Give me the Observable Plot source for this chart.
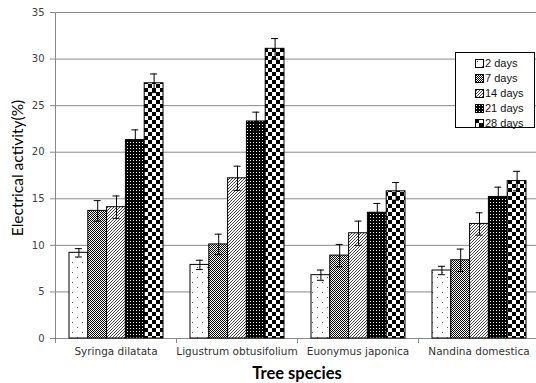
<!DOCTYPE html>
<html>
<head>
<meta charset="utf-8">
<script src="https://cdn.jsdelivr.net/npm/d3@7"></script>
<script src="https://cdn.jsdelivr.net/npm/@observablehq/plot@0.6"></script>
<style>
  html, body { margin: 0; padding: 0; background: #fff; }
  #wrap { position: relative; width: 536px; height: 383px; overflow: hidden; }
  #legend { position: absolute; left: 455px; top: 52px; width: 78px; height: 74px;
            border: 1px solid #000; background: #fff; font-family: "Liberation Sans", sans-serif;
            font-size: 11px; color: #111; }
  #legend .row { position: absolute; left: 19px; height: 15px; line-height: 15px; white-space: nowrap; }
  #legend svg { vertical-align: -1px; margin-right: 1px; }
  #ytitle { position: absolute; left: 17px; top: 168px; transform: translate(-50%, -50%) rotate(-90deg);
            font-family: Lato, sans-serif; font-size: 15.5px; white-space: nowrap; color: #000; }
  #xtitle { position: absolute; left: 297px; top: 363px; transform: translateX(-50%);
            font-family: Lato, sans-serif; font-weight: bold; font-size: 16.5px; white-space: nowrap; color: #000; }
</style>
</head>
<body>
<div id="wrap">
  <div id="chart"></div>
  <div id="ytitle">Electrical activity(%)</div>
  <div id="xtitle">Tree species</div>
  <div id="legend"></div>
</div>
<script>
// ---- data ----
const species = ["Syringa dilatata", "Ligustrum obtusifolium", "Euonymus japonica", "Nandina domestica"];
const durations = ["2 days", "7 days", "14 days", "21 days", "28 days"];
const yTicks = [0, 5, 10, 15, 20, 25, 30, 35];

const v2  = [9.2, 7.9, 6.8, 7.3];
const v7  = [13.7, 10.1, 8.9, 8.4];
const v14 = [14.1, 17.2, 11.3, 12.3];
const v21 = [21.3, 23.3, 13.5, 15.2];
const v28 = [27.4, 31.1, 15.8, 16.9];

const e2  = [0.45, 0.5, 0.55, 0.45];
const e7  = [1.1, 1.1, 1.2, 1.2];
const e14 = [1.2, 1.3, 1.3, 1.2];
const e21 = [1.1, 1.0, 1.0, 1.05];
const e28 = [1.0, 1.1, 0.95, 1.05];

const values = [v2, v7, v14, v21, v28];
const errors = [e2, e7, e14, e21, e28];
const patternIds = ["p2", "p7", "p14", "p21", "p28"];

// ---- layout helpers (styling only) ----
const bandW = 121, padL = 14, barW = 18.8, capW = 7;

const marks = [
  Plot.gridY(yTicks, {stroke: "#8a8a8a", strokeOpacity: 1}),
  Plot.ruleY([0], {stroke: "#8a8a8a"}),
  Plot.ruleX([species[0]], {x: d => d, dx: -bandW / 2, y1: 0, y2: 35, stroke: "#8a8a8a"}),
  Plot.axisY(yTicks, {tickSize: 5, tickPadding: 6, stroke: "#8a8a8a", color: "#404040", fontSize: 10, label: null}),
  Plot.axisX({ticks: species, tickSize: 5, tickFormat: () => "", dx: -bandW / 2, stroke: "#8a8a8a", label: null}),
  Plot.axisX({ticks: species, tickSize: 0, tickPadding: 9, fontSize: 10.5, color: "#333", label: null})
];

durations.forEach((dur, i) => {
  const rows = species.map((s, j) => ({species: s, value: values[i][j], err: errors[i][j]}));
  const left = padL + i * barW;
  const center = left + barW / 2;
  marks.push(Plot.barY(rows, {
    x: "species", y: "value",
    insetLeft: left, insetRight: bandW - left - barW,
    fill: `url(#${patternIds[i]})`, stroke: "#000", strokeWidth: 1
  }));
  marks.push(Plot.ruleX(rows, {
    x: "species", y1: d => d.value - d.err, y2: d => d.value + d.err,
    dx: center - bandW / 2, stroke: "#000", strokeWidth: 1
  }));
  for (const fn of [d => d.value - d.err, d => d.value + d.err]) {
    marks.push(Plot.tickY(rows, {
      x: "species", y: fn,
      insetLeft: center - capW / 2, insetRight: bandW - center - capW / 2,
      stroke: "#000", strokeWidth: 1
    }));
  }
});

const chart = Plot.plot({
  width: 536, height: 383,
  marginLeft: 55, marginRight: 0, marginTop: 12, marginBottom: 45,
  style: {background: "#fff", fontFamily: "DejaVu Sans, sans-serif"},
  x: {domain: species, range: [55, 539], padding: 0, axis: null},
  y: {domain: [0, 35], range: [338, 12], axis: null},
  marks
});

// ---- fill patterns ----
function addPatterns(svgSel) {
  const defs = svgSel.insert("defs", ":first-child");
  // 2 days: sparse dots
  let p = defs.append("pattern").attr("id", "p2").attr("patternUnits", "userSpaceOnUse").attr("width", 10).attr("height", 10);
  p.append("rect").attr("width", 10).attr("height", 10).attr("fill", "#fff");
  p.append("rect").attr("x", 2).attr("y", 2).attr("width", 1).attr("height", 1).attr("fill", "#555");
  p.append("rect").attr("x", 7).attr("y", 7).attr("width", 1).attr("height", 1).attr("fill", "#555");
  // 7 days: fine checker
  p = defs.append("pattern").attr("id", "p7").attr("patternUnits", "userSpaceOnUse").attr("width", 2).attr("height", 2);
  p.append("rect").attr("width", 2).attr("height", 2).attr("fill", "#fff");
  p.append("rect").attr("width", 1).attr("height", 1).attr("fill", "#000");
  p.append("rect").attr("x", 1).attr("y", 1).attr("width", 1).attr("height", 1).attr("fill", "#000");
  // 14 days: diagonal hatching
  p = defs.append("pattern").attr("id", "p14").attr("patternUnits", "userSpaceOnUse").attr("width", 3).attr("height", 3);
  p.append("rect").attr("width", 3).attr("height", 3).attr("fill", "#fff");
  p.append("path").attr("d", "M-1,1 L1,-1 M0,3 L3,0 M2,4 L4,2").attr("stroke", "#333").attr("stroke-width", 0.9);
  // 21 days: dark with tiny white dots
  p = defs.append("pattern").attr("id", "p21").attr("patternUnits", "userSpaceOnUse").attr("width", 3).attr("height", 3);
  p.append("rect").attr("width", 3).attr("height", 3).attr("fill", "#000");
  p.append("rect").attr("x", 1).attr("y", 1).attr("width", 1).attr("height", 1).attr("fill", "#fff");
  // 28 days: checkerboard
  p = defs.append("pattern").attr("id", "p28").attr("patternUnits", "userSpaceOnUse").attr("width", 8).attr("height", 8);
  p.append("rect").attr("width", 8).attr("height", 8).attr("fill", "#fff");
  p.append("rect").attr("width", 4).attr("height", 4).attr("fill", "#000");
  p.append("rect").attr("x", 4).attr("y", 4).attr("width", 4).attr("height", 4).attr("fill", "#000");
}
addPatterns(d3.select(chart));
document.getElementById("chart").appendChild(chart);

// ---- legend ----
const legend = d3.select("#legend");
durations.forEach((dur, i) => {
  const row = legend.append("div").attr("class", "row").style("top", (3 + i * 15) + "px");
  const sw = row.append("svg").attr("width", 9).attr("height", 9);
  sw.append("rect").attr("x", 0.5).attr("y", 0.5).attr("width", 8).attr("height", 8)
    .attr("fill", `url(#${patternIds[i]})`).attr("stroke", "#000");
  row.append("span").text(dur);
});
</script>
</body>
</html>
